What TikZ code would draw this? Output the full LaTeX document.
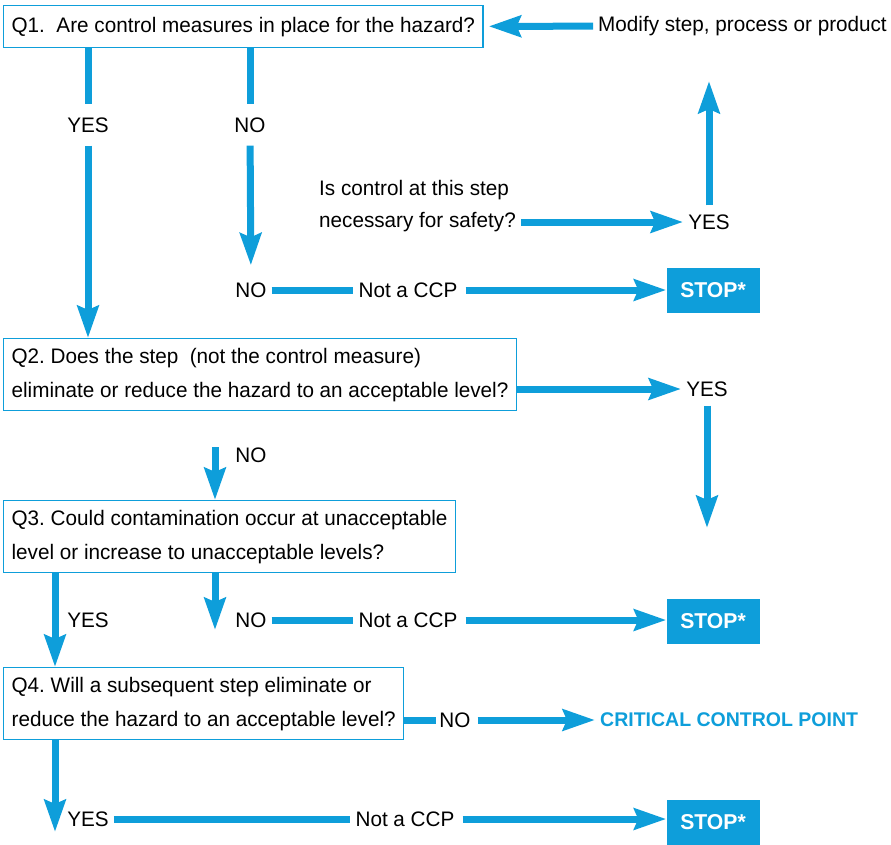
\documentclass[tikz,border=0pt]{standalone}
\usepackage{fontspec}
\setmainfont[FakeStretch=0.985]{Liberation Sans}
\usepackage{tikz}
\usetikzlibrary{arrows.meta,positioning}
\definecolor{ccpblue}{RGB}{14,158,218}
\frenchspacing

\begin{document}
\begin{tikzpicture}[x=1pt,y=-1pt,
    qbox/.style={draw=ccpblue, line width=1.3pt, anchor=north west, align=left,
        inner xsep=8pt, inner ysep=0pt, minimum height=72pt, font=\fontsize{21}{34}\selectfont},
    lbl/.style={font=\fontsize{21}{32}\selectfont, inner sep=5pt},
    stopbox/.style={fill=ccpblue, text=white, minimum width=93pt, minimum height=45pt,
        font=\fontsize{21.5}{24}\selectfont\bfseries},
    plain/.style={ccpblue, line width=7pt},
    flow/.style={plain, -{Stealth[length=32pt,width=21pt,inset=4pt]}}]

    \useasboundingbox (0,0) rectangle (891,844);

    % question boxes
    \node[qbox, minimum height=42pt] (q1) at (3,5)
        {Q1.\ \ Are control measures in place for the hazard?};
    \node[qbox] (q2) at (3,338)
        {Q2. Does the step\ \ (not the control measure)\\eliminate or reduce the hazard to an acceptable level?};
    \node[qbox] (q3) at (3,500)
        {Q3. Could contamination occur at unacceptable\\level or increase to unacceptable levels?};
    \node[qbox] (q4) at (3,667)
        {Q4. Will a subsequent step eliminate or\\reduce the hazard to an acceptable level?};

    % answers and remarks
    \node[lbl, anchor=west] (modify) at (593,26) {Modify step, process or product};
    \node[lbl] (yesA) at (88,125) {YES};
    \node[lbl] (noA) at (250,125) {NO};
    \node[lbl, anchor=west, align=left] (safety) at (314,206) {Is control at this step\\necessary for safety?};
    \node[lbl] (yesB) at (709,222) {YES};
    \node[lbl] (noB) at (251,290) {NO};
    \node[lbl] (nccpA) at (408,290) {Not a CCP};
    \node[stopbox] (stopA) at (713,290) {STOP*};
    \node[lbl] (yesC) at (707,389) {YES};
    \node[lbl] (noC) at (251,455) {NO};
    \node[lbl] (yesD) at (88,620) {YES};
    \node[lbl] (noD) at (251,620) {NO};
    \node[lbl] (nccpB) at (408,620) {Not a CCP};
    \node[stopbox] (stopB) at (713,621) {STOP*};
    \node[lbl, inner xsep=3pt] (noE) at (455,720) {NO};
    \node[lbl, anchor=west, text=ccpblue, font=\fontsize{19.8}{24}\selectfont\bfseries] (ccp) at (595,720) {CRITICAL CONTROL POINT};
    \node[lbl] (yesE) at (88,819) {YES};
    \node[lbl] (nccpC) at (405,819) {Not a CCP};
    \node[stopbox] (stopC) at (713,822) {STOP*};

    \coordinate (spine) at (55,0);
    \coordinate (endC) at (707,528);
    \coordinate (startC) at (215,447);
    \coordinate (endD) at (215,630);
    \coordinate (endE) at (55,832);

    % Q1
    \draw[flow, shorten >=5pt] (modify) -- (q1);
    \draw[plain, shorten >=8pt] (q1.south -| yesA) -- (yesA);
    \draw[flow, shorten <=8pt] (yesA) -- (yesA |- q2.north);
    \draw[plain, shorten >=8pt] (q1.south -| noA) -- (noA);
    \draw[flow, shorten <=8pt, shorten >=12pt] (noA) -- (noB);
    \draw[flow] (safety.east |- yesB) -- (yesB);
    \draw[flow, shorten <=4pt, shorten >=40pt] (yesB) -- (yesB |- modify.south);
    \draw[plain] (noB) -- (nccpA);
    \draw[flow, shorten <=3pt] (nccpA) -- (nccpA -| stopA.west);

    % Q2
    \draw[flow] (q2.east |- yesC) -- (yesC);
    \draw[flow, shorten <=4pt] (yesC) -- (endC);
    \draw[flow] (startC) -- (startC |- q3.north);

    % Q3
    \draw[flow] (q3.south -| spine) -- (q4.north -| spine);
    \draw[flow] (q3.south -| startC) -- (endD);
    \draw[plain] (noD) -- (nccpB);
    \draw[flow, shorten <=3pt] (nccpB) -- (nccpB -| stopB.west);

    % Q4
    \draw[plain] (q4.east |- noE) -- (noE);
    \draw[flow, shorten <=4pt] (noE) -- (ccp);
    \draw[flow] (q4.south -| spine) -- (endE);
    \draw[plain] (yesE) -- (nccpC);
    \draw[flow, shorten <=3pt] (nccpC) -- (nccpC -| stopC.west);
\end{tikzpicture}
\end{document}
